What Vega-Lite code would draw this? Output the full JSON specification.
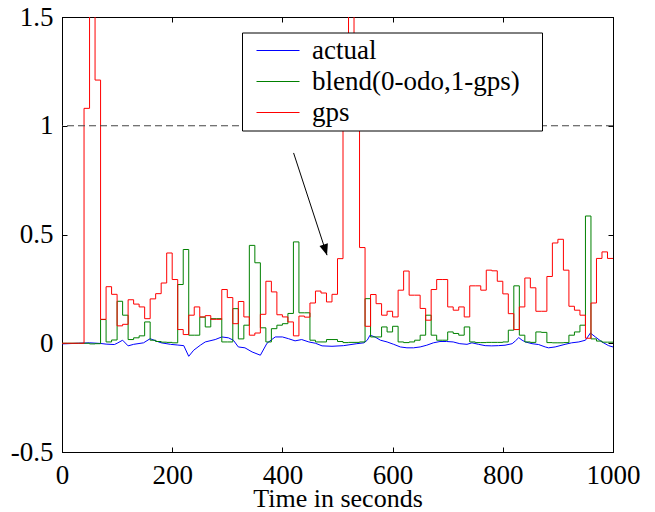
{
  "$schema": "https://vega.github.io/schema/vega-lite/v6.json",
  "width": 551,
  "height": 435,
  "autosize": "none",
  "padding": {"left": 62, "top": 17, "right": 42, "bottom": 60},
  "background": "white",
  "config": {
    "view": {"stroke": "black", "strokeWidth": 1},
    "style": {
      "guide-label": {"font": "Times New Roman"},
      "guide-title": {"font": "Times New Roman"}
    },
    "axis": {
      "grid": false,
      "domainColor": "black",
      "domainWidth": 1,
      "tickColor": "black",
      "tickWidth": 1,
      "tickSize": -5,
      "labelFont": "Times New Roman",
      "labelFontSize": 27,
      "labelColor": "black",
      "titleFont": "Times New Roman",
      "titleFontSize": 26,
      "titleFontWeight": "normal",
      "titleColor": "black"
    },
    "legend": {"labelFont": "Times New Roman", "titleFont": "Times New Roman", "labelFontSize": 27, "titleFontSize": 27, "labelColor": "black"}
  },
  "resolve": {"axis": {"x": "independent", "y": "independent"}},
  "datasets": {
    "lines": [
      {"t":0,"series":"actual","v":-0.003},{"t":30,"series":"actual","v":0},{"t":50,"series":"actual","v":0.002},{"t":70,"series":"actual","v":-0.001},{"t":80,"series":"actual","v":-0.004},{"t":95,"series":"actual","v":-0.006},{"t":100,"series":"actual","v":0},{"t":110,"series":"actual","v":0.014},{"t":120,"series":"actual","v":-0.012},{"t":130,"series":"actual","v":-0.005},{"t":148,"series":"actual","v":0.002},{"t":160,"series":"actual","v":0.021},{"t":170,"series":"actual","v":0.011},{"t":180,"series":"actual","v":0.002},{"t":197,"series":"actual","v":-0.005},{"t":209,"series":"actual","v":-0.008},{"t":221,"series":"actual","v":-0.011},{"t":230,"series":"actual","v":-0.06},{"t":239,"series":"actual","v":-0.032},{"t":251,"series":"actual","v":-0.009},{"t":260,"series":"actual","v":0.006},{"t":278,"series":"actual","v":0.017},{"t":290,"series":"actual","v":0.029},{"t":302,"series":"actual","v":0.025},{"t":311,"series":"actual","v":0.014},{"t":320,"series":"actual","v":-0.017},{"t":332,"series":"actual","v":-0.021},{"t":345,"series":"actual","v":-0.04},{"t":360,"series":"actual","v":-0.055},{"t":372,"series":"actual","v":0},{"t":387,"series":"actual","v":0.029},{"t":400,"series":"actual","v":0.029},{"t":411,"series":"actual","v":0.021},{"t":423,"series":"actual","v":0.011},{"t":435,"series":"actual","v":0.017},{"t":448,"series":"actual","v":0.006},{"t":460,"series":"actual","v":0},{"t":472,"series":"actual","v":-0.012},{"t":490,"series":"actual","v":-0.014},{"t":511,"series":"actual","v":-0.011},{"t":535,"series":"actual","v":-0.002},{"t":548,"series":"actual","v":0.002},{"t":554,"series":"actual","v":0.014},{"t":559,"series":"actual","v":0.037},{"t":568,"series":"actual","v":0.029},{"t":578,"series":"actual","v":0.014},{"t":590,"series":"actual","v":0.006},{"t":602,"series":"actual","v":-0.005},{"t":614,"series":"actual","v":-0.017},{"t":626,"series":"actual","v":-0.021},{"t":638,"series":"actual","v":-0.021},{"t":650,"series":"actual","v":-0.017},{"t":662,"series":"actual","v":-0.009},{"t":674,"series":"actual","v":0.002},{"t":686,"series":"actual","v":0.008},{"t":698,"series":"actual","v":0.008},{"t":710,"series":"actual","v":0.006},{"t":722,"series":"actual","v":-0.002},{"t":735,"series":"actual","v":-0.005},{"t":744,"series":"actual","v":0.002},{"t":756,"series":"actual","v":-0.005},{"t":768,"series":"actual","v":-0.011},{"t":780,"series":"actual","v":-0.012},{"t":792,"series":"actual","v":-0.011},{"t":804,"series":"actual","v":-0.009},{"t":817,"series":"actual","v":-0.002},{"t":823,"series":"actual","v":0.011},{"t":829,"series":"actual","v":0.026},{"t":835,"series":"actual","v":0.014},{"t":841,"series":"actual","v":0.006},{"t":853,"series":"actual","v":-0.002},{"t":865,"series":"actual","v":-0.006},{"t":877,"series":"actual","v":-0.017},{"t":883,"series":"actual","v":-0.021},{"t":895,"series":"actual","v":-0.017},{"t":913,"series":"actual","v":-0.005},{"t":925,"series":"actual","v":0.002},{"t":938,"series":"actual","v":0.006},{"t":950,"series":"actual","v":0.014},{"t":959,"series":"actual","v":0.047},{"t":968,"series":"actual","v":0.029},{"t":980,"series":"actual","v":0.006},{"t":992,"series":"actual","v":-0.011},{"t":1000,"series":"actual","v":-0.017},

      {"t":0,"series":"blend(0-odo,1-gps)","v":0},{"t":10,"series":"blend(0-odo,1-gps)","v":0},{"t":20,"series":"blend(0-odo,1-gps)","v":0},{"t":30,"series":"blend(0-odo,1-gps)","v":0},{"t":40,"series":"blend(0-odo,1-gps)","v":0},{"t":50,"series":"blend(0-odo,1-gps)","v":-0.003},{"t":60,"series":"blend(0-odo,1-gps)","v":-0.002},{"t":70,"series":"blend(0-odo,1-gps)","v":0.109},{"t":80,"series":"blend(0-odo,1-gps)","v":0.006},{"t":90,"series":"blend(0-odo,1-gps)","v":0.015},{"t":100,"series":"blend(0-odo,1-gps)","v":0.193},{"t":110,"series":"blend(0-odo,1-gps)","v":0.129},{"t":120,"series":"blend(0-odo,1-gps)","v":0.017},{"t":130,"series":"blend(0-odo,1-gps)","v":0.025},{"t":140,"series":"blend(0-odo,1-gps)","v":0.034},{"t":150,"series":"blend(0-odo,1-gps)","v":0.098},{"t":160,"series":"blend(0-odo,1-gps)","v":0.014},{"t":170,"series":"blend(0-odo,1-gps)","v":0.008},{"t":180,"series":"blend(0-odo,1-gps)","v":0.005},{"t":190,"series":"blend(0-odo,1-gps)","v":0.004},{"t":200,"series":"blend(0-odo,1-gps)","v":0.002},{"t":210,"series":"blend(0-odo,1-gps)","v":0.27},{"t":220,"series":"blend(0-odo,1-gps)","v":0.431},{"t":230,"series":"blend(0-odo,1-gps)","v":0.037},{"t":240,"series":"blend(0-odo,1-gps)","v":0.037},{"t":250,"series":"blend(0-odo,1-gps)","v":0.12},{"t":260,"series":"blend(0-odo,1-gps)","v":0.075},{"t":270,"series":"blend(0-odo,1-gps)","v":0.113},{"t":280,"series":"blend(0-odo,1-gps)","v":0.113},{"t":290,"series":"blend(0-odo,1-gps)","v":0.006},{"t":300,"series":"blend(0-odo,1-gps)","v":0.006},{"t":310,"series":"blend(0-odo,1-gps)","v":0.159},{"t":320,"series":"blend(0-odo,1-gps)","v":0.02},{"t":330,"series":"blend(0-odo,1-gps)","v":0.083},{"t":340,"series":"blend(0-odo,1-gps)","v":0.45},{"t":350,"series":"blend(0-odo,1-gps)","v":0.37},{"t":360,"series":"blend(0-odo,1-gps)","v":0.071},{"t":370,"series":"blend(0-odo,1-gps)","v":0.006},{"t":380,"series":"blend(0-odo,1-gps)","v":0.067},{"t":390,"series":"blend(0-odo,1-gps)","v":0.083},{"t":400,"series":"blend(0-odo,1-gps)","v":0.09},{"t":410,"series":"blend(0-odo,1-gps)","v":0.137},{"t":420,"series":"blend(0-odo,1-gps)","v":0.466},{"t":430,"series":"blend(0-odo,1-gps)","v":0.14},{"t":440,"series":"blend(0-odo,1-gps)","v":0.14},{"t":450,"series":"blend(0-odo,1-gps)","v":0.014},{"t":460,"series":"blend(0-odo,1-gps)","v":0.006},{"t":470,"series":"blend(0-odo,1-gps)","v":0.006},{"t":480,"series":"blend(0-odo,1-gps)","v":0.017},{"t":490,"series":"blend(0-odo,1-gps)","v":0.017},{"t":500,"series":"blend(0-odo,1-gps)","v":0.008},{"t":510,"series":"blend(0-odo,1-gps)","v":0.003},{"t":520,"series":"blend(0-odo,1-gps)","v":0.004},{"t":530,"series":"blend(0-odo,1-gps)","v":0.004},{"t":540,"series":"blend(0-odo,1-gps)","v":0.006},{"t":550,"series":"blend(0-odo,1-gps)","v":0.205},{"t":560,"series":"blend(0-odo,1-gps)","v":0.029},{"t":570,"series":"blend(0-odo,1-gps)","v":0.029},{"t":580,"series":"blend(0-odo,1-gps)","v":0.075},{"t":590,"series":"blend(0-odo,1-gps)","v":0.052},{"t":600,"series":"blend(0-odo,1-gps)","v":0.078},{"t":610,"series":"blend(0-odo,1-gps)","v":0.006},{"t":620,"series":"blend(0-odo,1-gps)","v":0.003},{"t":630,"series":"blend(0-odo,1-gps)","v":0.006},{"t":640,"series":"blend(0-odo,1-gps)","v":0.014},{"t":650,"series":"blend(0-odo,1-gps)","v":0.037},{"t":660,"series":"blend(0-odo,1-gps)","v":0.129},{"t":670,"series":"blend(0-odo,1-gps)","v":0.037},{"t":680,"series":"blend(0-odo,1-gps)","v":0.014},{"t":690,"series":"blend(0-odo,1-gps)","v":0.014},{"t":700,"series":"blend(0-odo,1-gps)","v":0.052},{"t":710,"series":"blend(0-odo,1-gps)","v":0.045},{"t":720,"series":"blend(0-odo,1-gps)","v":0.037},{"t":730,"series":"blend(0-odo,1-gps)","v":0.075},{"t":740,"series":"blend(0-odo,1-gps)","v":0.006},{"t":750,"series":"blend(0-odo,1-gps)","v":0.003},{"t":760,"series":"blend(0-odo,1-gps)","v":0.003},{"t":770,"series":"blend(0-odo,1-gps)","v":0.004},{"t":780,"series":"blend(0-odo,1-gps)","v":0.004},{"t":790,"series":"blend(0-odo,1-gps)","v":0.004},{"t":800,"series":"blend(0-odo,1-gps)","v":0.006},{"t":810,"series":"blend(0-odo,1-gps)","v":0.06},{"t":820,"series":"blend(0-odo,1-gps)","v":0.264},{"t":830,"series":"blend(0-odo,1-gps)","v":0.037},{"t":840,"series":"blend(0-odo,1-gps)","v":0.006},{"t":850,"series":"blend(0-odo,1-gps)","v":0.004},{"t":860,"series":"blend(0-odo,1-gps)","v":0.052},{"t":870,"series":"blend(0-odo,1-gps)","v":0.05},{"t":880,"series":"blend(0-odo,1-gps)","v":0.003},{"t":890,"series":"blend(0-odo,1-gps)","v":0.002},{"t":900,"series":"blend(0-odo,1-gps)","v":0.002},{"t":910,"series":"blend(0-odo,1-gps)","v":0.003},{"t":920,"series":"blend(0-odo,1-gps)","v":0.037},{"t":930,"series":"blend(0-odo,1-gps)","v":0.052},{"t":940,"series":"blend(0-odo,1-gps)","v":0.083},{"t":950,"series":"blend(0-odo,1-gps)","v":0.585},{"t":960,"series":"blend(0-odo,1-gps)","v":0.02},{"t":970,"series":"blend(0-odo,1-gps)","v":0.01},{"t":980,"series":"blend(0-odo,1-gps)","v":0.005},{"t":990,"series":"blend(0-odo,1-gps)","v":0.005},{"t":1000,"series":"blend(0-odo,1-gps)","v":0.005},

      {"t":0,"series":"gps","v":0},{"t":10,"series":"gps","v":0},{"t":20,"series":"gps","v":0},{"t":30,"series":"gps","v":0},{"t":40,"series":"gps","v":1.08},{"t":50,"series":"gps","v":2.0},{"t":60,"series":"gps","v":1.21},{"t":70,"series":"gps","v":0.11},{"t":80,"series":"gps","v":0.26},{"t":90,"series":"gps","v":0.225},{"t":100,"series":"gps","v":0.08},{"t":110,"series":"gps","v":0.087},{"t":120,"series":"gps","v":0.2},{"t":130,"series":"gps","v":0.18},{"t":140,"series":"gps","v":0.167},{"t":150,"series":"gps","v":0.113},{"t":160,"series":"gps","v":0.204},{"t":170,"series":"gps","v":0.228},{"t":180,"series":"gps","v":0.277},{"t":190,"series":"gps","v":0.415},{"t":200,"series":"gps","v":0.293},{"t":210,"series":"gps","v":0.063},{"t":220,"series":"gps","v":0.04},{"t":230,"series":"gps","v":0.129},{"t":240,"series":"gps","v":0.167},{"t":250,"series":"gps","v":0.121},{"t":260,"series":"gps","v":0.127},{"t":270,"series":"gps","v":0.11},{"t":280,"series":"gps","v":0.11},{"t":290,"series":"gps","v":0.247},{"t":300,"series":"gps","v":0.21},{"t":310,"series":"gps","v":0.09},{"t":320,"series":"gps","v":0.192},{"t":330,"series":"gps","v":0.121},{"t":340,"series":"gps","v":0.037},{"t":350,"series":"gps","v":0.047},{"t":360,"series":"gps","v":0.133},{"t":370,"series":"gps","v":0.285},{"t":380,"series":"gps","v":0.236},{"t":390,"series":"gps","v":0.131},{"t":400,"series":"gps","v":0.121},{"t":410,"series":"gps","v":0.098},{"t":420,"series":"gps","v":0.034},{"t":430,"series":"gps","v":0.125},{"t":440,"series":"gps","v":0.12},{"t":450,"series":"gps","v":0.185},{"t":460,"series":"gps","v":0.24},{"t":470,"series":"gps","v":0.231},{"t":480,"series":"gps","v":0.19},{"t":490,"series":"gps","v":0.225},{"t":500,"series":"gps","v":0.389},{"t":510,"series":"gps","v":1.2},{"t":520,"series":"gps","v":2.0},{"t":530,"series":"gps","v":1.2},{"t":540,"series":"gps","v":0.44},{"t":550,"series":"gps","v":0.078},{"t":560,"series":"gps","v":0.224},{"t":570,"series":"gps","v":0.182},{"t":580,"series":"gps","v":0.129},{"t":590,"series":"gps","v":0.147},{"t":600,"series":"gps","v":0.121},{"t":610,"series":"gps","v":0.244},{"t":620,"series":"gps","v":0.332},{"t":630,"series":"gps","v":0.221},{"t":640,"series":"gps","v":0.221},{"t":650,"series":"gps","v":0.16},{"t":660,"series":"gps","v":0.106},{"t":670,"series":"gps","v":0.247},{"t":680,"series":"gps","v":0.293},{"t":690,"series":"gps","v":0.293},{"t":700,"series":"gps","v":0.167},{"t":710,"series":"gps","v":0.152},{"t":720,"series":"gps","v":0.167},{"t":730,"series":"gps","v":0.121},{"t":740,"series":"gps","v":0.264},{"t":750,"series":"gps","v":0.264},{"t":760,"series":"gps","v":0.244},{"t":770,"series":"gps","v":0.336},{"t":780,"series":"gps","v":0.333},{"t":790,"series":"gps","v":0.285},{"t":800,"series":"gps","v":0.227},{"t":810,"series":"gps","v":0.136},{"t":820,"series":"gps","v":0.063},{"t":830,"series":"gps","v":0.167},{"t":840,"series":"gps","v":0.3},{"t":850,"series":"gps","v":0.255},{"t":860,"series":"gps","v":0.147},{"t":870,"series":"gps","v":0.147},{"t":880,"series":"gps","v":0.307},{"t":890,"series":"gps","v":0.461},{"t":900,"series":"gps","v":0.478},{"t":910,"series":"gps","v":0.336},{"t":920,"series":"gps","v":0.17},{"t":930,"series":"gps","v":0.152},{"t":940,"series":"gps","v":0.129},{"t":950,"series":"gps","v":0.023},{"t":960,"series":"gps","v":0.185},{"t":970,"series":"gps","v":0.39},{"t":980,"series":"gps","v":0.42},{"t":990,"series":"gps","v":0.39},{"t":1000,"series":"gps","v":0.39}
    ],
    "arrow": [{"t": 420.3, "v": 0.875, "t2": 481, "v2": 0.405}]
  },
  "layer": [
    {
      "data": {"name": "lines"},
      "transform": [{"filter": "datum.series === 'actual'"}],
      "mark": {"type": "line", "strokeWidth": 1, "clip": true},
      "encoding": {
        "x": {"field": "t", "type": "quantitative", "scale": {"domain": [0, 1000], "nice": false, "zero": false},
              "axis": {"orient": "bottom", "labelFont": "Times New Roman", "titleFont": "Times New Roman", "values": [0, 200, 400, 600, 800, 1000], "labelExpr": "toString(datum.value)", "labelFlush": false, "labelPadding": 15, "title": "Time in seconds", "titlePadding": -3}},
        "y": {"field": "v", "type": "quantitative", "scale": {"domain": [-0.5, 1.5], "nice": false, "zero": false},
              "axis": {"orient": "left", "labelFont": "Times New Roman", "values": [-0.5, 0, 0.5, 1, 1.5], "labelExpr": "toString(datum.value)", "labelPadding": 14, "title": null}},
        "color": {"field": "series", "type": "nominal",
                  "scale": {"domain": ["actual", "blend(0-odo,1-gps)", "gps"], "range": ["#0000ff", "#008000", "#ff0000"]},
                  "legend": {"orient": "none", "legendX": 180, "legendY": 15.5, "title": "\u00a0", "titleOrient": "right", "titlePadding": 19, "titleFont": "Times New Roman", "labelFont": "Times New Roman", "symbolType": "stroke", "symbolSize": 1849, "symbolStrokeWidth": 1, "symbolOffset": 11, "labelOffset": 12, "labelLimit": 500, "padding": 3, "clipHeight": 30, "rowPadding": 1, "fillColor": "white", "strokeColor": "black"}}
      }
    },
    {
      "data": {"name": "lines"},
      "transform": [{"filter": "datum.series !== 'actual'"}],
      "mark": {"type": "line", "strokeWidth": 1, "interpolate": "step-after", "clip": true},
      "encoding": {
        "x": {"field": "t", "type": "quantitative", "scale": {"domain": [0, 1000], "nice": false, "zero": false},
              "axis": {"orient": "top", "values": [0, 200, 400, 600, 800, 1000], "labels": false, "title": null}},
        "y": {"field": "v", "type": "quantitative", "scale": {"domain": [-0.5, 1.5], "nice": false, "zero": false},
              "axis": {"orient": "right", "values": [-0.5, 0, 0.5, 1, 1.5], "labels": false, "title": null}},
        "color": {"field": "series", "type": "nominal",
                  "scale": {"domain": ["actual", "blend(0-odo,1-gps)", "gps"], "range": ["#0000ff", "#008000", "#ff0000"]},
                  "legend": {"orient": "none", "legendX": 180, "legendY": 15.5, "title": "\u00a0", "titleOrient": "right", "titlePadding": 19, "titleFont": "Times New Roman", "labelFont": "Times New Roman", "symbolType": "stroke", "symbolSize": 1849, "symbolStrokeWidth": 1, "symbolOffset": 11, "labelOffset": 12, "labelLimit": 500, "padding": 3, "clipHeight": 30, "rowPadding": 1, "fillColor": "white", "strokeColor": "black"}}
      }
    },
    {
      "data": {"values": [{"v": 1}]},
      "mark": {"type": "rule", "strokeDash": [7, 4], "color": "#444444", "strokeWidth": 1},
      "encoding": {
        "y": {"field": "v", "type": "quantitative", "scale": {"domain": [-0.5, 1.5], "nice": false, "zero": false}, "axis": null}
      }
    },
    {
      "data": {"name": "arrow"},
      "mark": {"type": "rule", "color": "black", "strokeWidth": 1},
      "encoding": {
        "x": {"field": "t", "type": "quantitative", "axis": null},
        "y": {"field": "v", "type": "quantitative", "axis": null},
        "x2": {"field": "t2"},
        "y2": {"field": "v2"}
      }
    },
    {
      "data": {"name": "arrow"},
      "mark": {"type": "point", "shape": "M0,0L-0.8,-2L0.8,-2Z", "filled": true, "color": "black", "opacity": 1, "size": 121, "angle": -17.6},
      "encoding": {
        "x": {"field": "t2", "type": "quantitative", "axis": null},
        "y": {"field": "v2", "type": "quantitative", "axis": null}
      }
    }
  ]
}
